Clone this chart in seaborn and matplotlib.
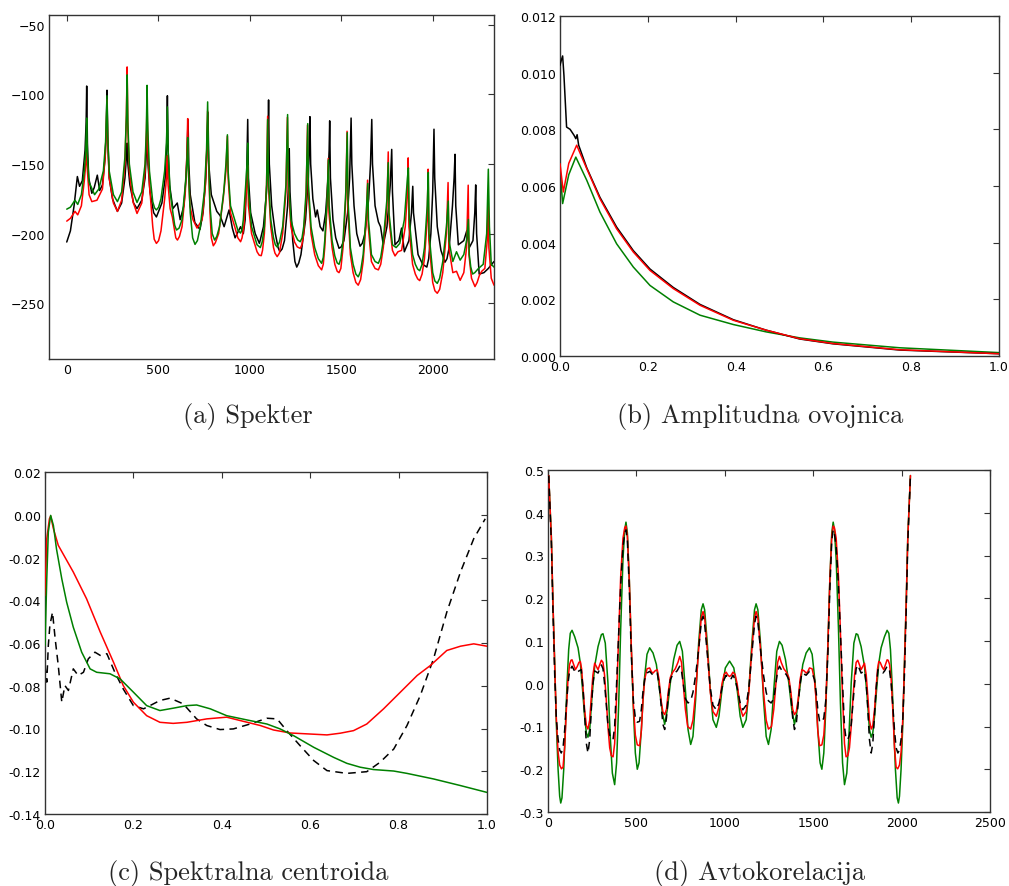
import numpy as np
import pandas as pd
import matplotlib
matplotlib.use("Agg")
import matplotlib.pyplot as plt
import seaborn as sns

# ---------------- data: (a) Spekter  (frequency, dB) ----------------
spec_black = [(0, -206), (20, -198), (40, -180), (58, -159), (70, -166), (85, -162), (100, -140), (106, -120), (109, -94), (113, -135), (120, -160), (137, -171), (150, -167), (167, -158), (180, -169), (195, -165), (210, -145), (216, -125), (220, -97), (224, -130), (232, -160), (250, -175), (277, -184), (300, -178), (318, -160), (326, -145), (330, -135), (334, -150), (345, -165), (365, -178), (384, -182), (410, -176), (428, -160), (436, -140), (440, -120), (444, -150), (455, -170), (475, -185), (490, -188), (520, -178), (538, -160), (546, -135), (550, -101), (554, -140), (562, -165), (580, -182), (604, -178), (620, -190), (640, -180), (652, -160), (658, -140), (663, -118), (667, -150), (675, -172), (700, -192), (728, -197), (745, -185), (760, -160), (766, -140), (772, -113), (776, -150), (790, -172), (820, -184), (838, -187), (860, -195), (887, -183), (905, -196), (920, -203), (950, -195), (965, -200), (975, -190), (983, -160), (989, -118), (993, -160), (1005, -185), (1030, -200), (1053, -207), (1075, -195), (1092, -170), (1099, -140), (1103, -104), (1107, -150), (1120, -180), (1140, -200), (1155, -210), (1165, -213), (1177, -211), (1190, -205), (1207, -180), (1213, -160), (1216, -139), (1220, -170), (1235, -205), (1247, -220), (1257, -224), (1268, -221), (1280, -215), (1305, -190), (1320, -160), (1326, -135), (1329, -116), (1333, -150), (1345, -175), (1360, -188), (1369, -183), (1385, -195), (1400, -198), (1415, -185), (1428, -160), (1434, -140), (1437, -119), (1441, -160), (1455, -190), (1470, -203), (1488, -210.5), (1500, -209.5), (1515, -205), (1535, -185), (1546, -160), (1551, -135), (1554, -117), (1558, -150), (1570, -180), (1585, -200), (1603, -209), (1615, -207), (1630, -200), (1650, -175), (1660, -150), (1664, -130), (1667, -118), (1671, -150), (1685, -180), (1703, -191.5), (1715, -195), (1730, -208), (1750, -195), (1768, -165), (1773, -150), (1776, -139.5), (1780, -170), (1794, -208), (1815, -205), (1830, -196), (1845, -213), (1870, -205), (1884, -185), (1891, -166), (1895, -185), (1920, -215), (1945, -222), (1968, -224), (1978, -218), (1990, -200), (2000, -170), (2004, -145), (2007, -125), (2011, -160), (2025, -195), (2045, -212), (2067, -220.5), (2078, -218), (2090, -210), (2108, -180), (2117, -160), (2122, -143), (2126, -180), (2140, -208), (2170, -205), (2186, -198), (2200, -210), (2220, -205), (2230, -185), (2235, -165), (2240, -200), (2254, -229), (2280, -228), (2304, -225), (2335, -220)]
spec_red = [(0, -191), (20, -189), (45, -184), (60, -186.5), (80, -180), (96, -162), (104, -150), (109, -135), (113, -155), (122, -172), (137, -177), (165, -176), (195, -168), (210, -145), (216, -125), (220, -104), (224, -135), (232, -160), (255, -178), (277, -184), (300, -176), (318, -150), (326, -115), (330, -80.3), (334, -125), (342, -155), (362, -177), (384, -185.5), (410, -178), (428, -155), (435, -130), (439, -105), (443, -140), (452, -165), (470, -195), (478, -204), (490, -207), (502, -205), (515, -198), (535, -175), (545, -160), (550, -144), (554, -165), (565, -182), (577, -188), (590, -198), (596, -203), (605, -204.6), (616, -202), (630, -195), (648, -170), (656, -145), (661, -117.4), (665, -155), (673, -180), (690, -190), (712, -196), (740, -190), (758, -165), (765, -140), (770, -112), (774, -145), (783, -185), (790, -203), (801, -208.7), (812, -206.5), (830, -200), (855, -175), (870, -155), (878, -130), (882, -160), (895, -185), (918, -195), (935, -203), (950, -205.8), (958, -203), (968, -195), (980, -172), (986, -160), (989, -151), (993, -180), (1010, -200), (1040, -213), (1052, -215.5), (1063, -215.8), (1070, -212), (1080, -200), (1092, -165), (1098, -115.7), (1102, -165), (1115, -195), (1130, -210), (1138, -214), (1150, -216.5), (1162, -214), (1180, -200), (1198, -170), (1206, -116.5), (1210, -165), (1225, -195), (1245, -206), (1260, -209.5), (1276, -210.6), (1285, -208), (1295, -200), (1308, -175), (1316, -122), (1320, -170), (1335, -200), (1355, -215), (1375, -223), (1393, -226), (1402, -222), (1410, -210), (1423, -180), (1429, -146), (1433, -185), (1450, -210), (1465, -222), (1478, -227), (1488, -228), (1498, -225), (1510, -210), (1525, -175), (1532, -126.5), (1536, -180), (1550, -215), (1565, -228), (1580, -235), (1593, -237), (1606, -233), (1620, -220), (1637, -190), (1644, -161.6), (1648, -195), (1665, -220), (1685, -225), (1703, -226), (1716, -222), (1730, -210), (1750, -180), (1757, -141.3), (1761, -190), (1780, -212), (1794, -216), (1810, -213), (1830, -212), (1850, -195), (1862, -170), (1866, -145.6), (1870, -195), (1890, -222), (1905, -229), (1918, -232.5), (1929, -233.7), (1942, -229), (1955, -218), (1970, -190), (1975, -153.7), (1979, -205), (2000, -235), (2012, -241), (2025, -242.8), (2038, -240), (2055, -228), (2075, -200), (2084, -163.3), (2088, -210), (2110, -228), (2130, -227), (2150, -233.5), (2170, -228), (2185, -210), (2194, -165.2), (2198, -215), (2212, -232), (2231, -238), (2243, -235), (2255, -230), (2268, -227), (2285, -225), (2298, -205), (2303, -178.3), (2307, -210), (2320, -232), (2335, -237)]
spec_green = [(0, -182.4), (20, -181), (45, -176), (60, -179), (80, -172), (96, -155), (104, -140), (109, -117), (113, -145), (122, -163), (152, -172), (175, -168), (200, -155), (212, -135), (220, -101), (224, -130), (232, -155), (255, -172), (277, -177), (300, -170), (318, -145), (326, -115), (330, -86), (334, -120), (342, -150), (362, -170), (384, -177.6), (410, -170), (428, -150), (435, -125), (439, -93.5), (443, -125), (452, -155), (470, -177), (480, -181.5), (490, -183), (502, -181), (515, -175), (535, -155), (545, -135), (550, -109), (554, -140), (565, -170), (580, -185), (590, -194), (600, -197.4), (614, -196), (630, -190), (648, -165), (656, -150), (661, -131), (665, -155), (675, -185), (688, -203), (701, -207.7), (714, -205), (730, -195), (752, -170), (764, -140), (770, -105.4), (774, -140), (783, -180), (795, -200), (808, -204.6), (820, -202), (835, -195), (858, -170), (870, -150), (878, -129), (882, -155), (895, -180), (918, -190), (935, -197.5), (950, -199.6), (958, -197), (965, -190), (978, -165), (985, -150), (989, -135), (993, -170), (1010, -195), (1040, -208), (1058, -210), (1068, -206), (1080, -195), (1092, -165), (1098, -118), (1102, -160), (1115, -190), (1130, -203), (1140, -208), (1150, -209.6), (1163, -206), (1180, -195), (1198, -165), (1207, -114.5), (1211, -160), (1225, -190), (1245, -200), (1262, -204.5), (1276, -205.8), (1286, -203), (1295, -195), (1308, -170), (1317, -121), (1321, -165), (1335, -195), (1355, -210), (1375, -218), (1393, -221.3), (1402, -217), (1410, -205), (1423, -175), (1430, -147), (1434, -180), (1450, -205), (1465, -216), (1478, -221), (1488, -222), (1498, -218), (1510, -205), (1525, -170), (1533, -127.5), (1537, -175), (1550, -210), (1565, -222), (1580, -229), (1593, -231), (1606, -227), (1620, -215), (1637, -185), (1645, -164), (1649, -190), (1665, -215), (1685, -220), (1703, -221.3), (1716, -217), (1730, -205), (1750, -175), (1757, -149), (1761, -185), (1780, -208), (1800, -210), (1820, -207), (1845, -190), (1862, -160), (1867, -152.8), (1872, -190), (1890, -215), (1905, -222), (1918, -225.5), (1929, -226.6), (1942, -222), (1955, -210), (1970, -180), (1976, -156), (1980, -200), (2000, -228), (2012, -234), (2025, -235.7), (2038, -232), (2055, -220), (2075, -195), (2085, -176.6), (2089, -205), (2110, -220), (2130, -213), (2150, -219), (2170, -215), (2185, -205), (2195, -189.8), (2200, -215), (2208, -224), (2218, -229), (2230, -228), (2250, -225), (2276, -222), (2295, -200), (2304, -153.7), (2310, -195), (2320, -222), (2335, -224)]
spec_black_x, spec_black_y = [p[0] for p in spec_black], [p[1] for p in spec_black]
spec_red_x, spec_red_y = [p[0] for p in spec_red], [p[1] for p in spec_red]
spec_green_x, spec_green_y = [p[0] for p in spec_green], [p[1] for p in spec_green]

# ---------------- data: (b) Amplitudna ovojnica ----------------
env_black_x = [0.0, 0.003, 0.006, 0.009, 0.015, 0.023, 0.032, 0.036, 0.039, 0.0425, 0.061, 0.091, 0.129, 0.167, 0.205, 0.258, 0.319, 0.395, 0.470, 0.546, 0.622, 0.774, 1.0]
env_black_y = [0.01026, 0.01044, 0.01059, 0.0099, 0.00808, 0.0080, 0.00779, 0.00767, 0.00781, 0.00744, 0.00664, 0.00560, 0.00455, 0.00372, 0.00307, 0.00242, 0.00182, 0.00128, 0.00091, 0.00060, 0.00043, 0.00021, 0.00008]
env_red_x = [0.0, 0.0076, 0.02, 0.038, 0.061, 0.091, 0.129, 0.167, 0.205, 0.258, 0.319, 0.395, 0.470, 0.546, 0.622, 0.774, 1.0]
env_red_y = [0.00679, 0.00579, 0.0068, 0.00744, 0.00661, 0.00555, 0.00449, 0.00367, 0.00302, 0.00238, 0.00179, 0.00126, 0.00091, 0.00061, 0.00044, 0.00022, 0.00008]
env_green_x = [0.0, 0.006, 0.02, 0.036, 0.061, 0.091, 0.129, 0.167, 0.205, 0.258, 0.319, 0.395, 0.470, 0.546, 0.622, 0.774, 1.0]
env_green_y = [0.00661, 0.00538, 0.0064, 0.00702, 0.0062, 0.00508, 0.00396, 0.00314, 0.00249, 0.00191, 0.00144, 0.00111, 0.00085, 0.00064, 0.00049, 0.00029, 0.00012]

# ---------------- data: (c) Spektralna centroida ----------------
cen_green_x = [0.0, 0.004, 0.0075, 0.0128, 0.019, 0.026, 0.038, 0.049, 0.064, 0.083, 0.102, 0.117, 0.147, 0.17, 0.2, 0.23, 0.26, 0.29, 0.321, 0.343, 0.374, 0.411, 0.457, 0.502, 0.532, 0.562, 0.608, 0.653, 0.683, 0.713, 0.743, 0.789, 0.819, 0.879, 0.94, 1.0]
cen_green_y = [-0.0612, -0.03, -0.0081, -0.0003, -0.005, -0.016, -0.03, -0.0409, -0.0526, -0.0643, -0.0721, -0.0737, -0.0744, -0.0768, -0.083, -0.0893, -0.0916, -0.0905, -0.0893, -0.089, -0.0908, -0.094, -0.096, -0.0979, -0.1002, -0.1033, -0.1088, -0.1135, -0.1163, -0.1181, -0.1192, -0.1199, -0.121, -0.1236, -0.1267, -0.1299]
cen_red_x = [0.0, 0.004, 0.01, 0.0128, 0.019, 0.03, 0.064, 0.094, 0.125, 0.155, 0.177, 0.2, 0.23, 0.26, 0.29, 0.321, 0.366, 0.411, 0.442, 0.487, 0.517, 0.555, 0.592, 0.638, 0.668, 0.698, 0.728, 0.766, 0.804, 0.842, 0.872, 0.909, 0.94, 0.97, 1.0]
cen_red_y = [-0.0378, -0.0112, -0.0019, -0.0006, -0.0065, -0.0143, -0.0268, -0.0393, -0.0549, -0.069, -0.0799, -0.0877, -0.094, -0.0971, -0.0976, -0.0971, -0.0955, -0.0947, -0.0963, -0.0986, -0.1007, -0.1021, -0.1025, -0.103, -0.1022, -0.101, -0.0979, -0.0908, -0.083, -0.0752, -0.0705, -0.0635, -0.0615, -0.0604, -0.0615]
cen_black_x = [0.0, 0.004, 0.0075, 0.011, 0.017, 0.023, 0.030, 0.038, 0.045, 0.053, 0.064, 0.075, 0.087, 0.098, 0.113, 0.125, 0.14, 0.158, 0.177, 0.2, 0.223, 0.245, 0.26, 0.283, 0.313, 0.343, 0.366, 0.396, 0.426, 0.464, 0.502, 0.525, 0.547, 0.577, 0.608, 0.638, 0.683, 0.728, 0.758, 0.789, 0.819, 0.849, 0.879, 0.909, 0.94, 0.97, 0.996]
cen_black_y = [-0.0705, -0.0783, -0.0612, -0.0518, -0.0456, -0.058, -0.0705, -0.0877, -0.0799, -0.0822, -0.0721, -0.0752, -0.0737, -0.0674, -0.0643, -0.0658, -0.065, -0.0737, -0.0815, -0.0893, -0.0908, -0.0885, -0.0869, -0.0858, -0.0885, -0.0955, -0.0986, -0.1005, -0.1002, -0.0979, -0.0952, -0.0955, -0.101, -0.108, -0.115, -0.1197, -0.121, -0.1202, -0.1158, -0.1096, -0.0986, -0.0846, -0.0674, -0.0456, -0.0268, -0.0112, -0.0019]

# ---------------- data: (d) Avtokorelacija ----------------
ac_green_x = [4, 19, 28, 38, 47, 57, 66, 72, 79, 89, 98, 107, 117, 126, 136, 151, 170, 183, 194, 207, 217, 226, 236, 249, 264, 283, 302, 311, 324, 339, 352, 364, 377, 388, 400, 411, 424, 434, 441, 449, 460, 471, 483, 494, 505, 515, 528, 543, 560, 575, 594, 613, 631, 647, 660, 675, 692, 711, 730, 745, 760, 777, 792, 807, 820, 835, 852, 867, 877, 886, 901, 918, 933, 952, 967, 984, 1003, 1027,
              1051, 1070, 1087, 1102, 1121, 1136, 1153, 1168, 1177, 1187, 1202, 1219, 1234, 1247, 1262, 1277, 1294, 1309, 1324, 1343, 1362, 1379, 1394, 1407, 1423, 1441, 1460, 1479, 1494, 1511, 1526, 1539, 1549, 1560, 1571, 1583, 1594, 1605, 1613, 1620, 1630, 1643, 1654, 1666, 1677, 1690, 1702, 1715, 1730, 1743, 1752, 1771, 1790, 1805, 1818, 1828, 1837, 1847, 1860, 1871, 1884, 1903, 1918, 1928, 1937, 1947, 1956, 1965, 1975, 1982, 1988, 1997, 2007, 2016, 2026, 2035, 2050]
ac_green_y = [0.487, 0.344, 0.189, 0.048, -0.092, -0.2, -0.263, -0.279, -0.267, -0.2, -0.107, -0.006, 0.08, 0.118, 0.125, 0.11, 0.084, 0.048, -0.006, -0.076, -0.115, -0.125, -0.107, -0.029, 0.041, 0.087, 0.115, 0.117, 0.095, 0.002, -0.123, -0.209, -0.236, -0.185, -0.045, 0.127, 0.291, 0.361, 0.378, 0.353, 0.243, 0.087, -0.061, -0.162, -0.2, -0.185, -0.107, 0.002, 0.069, 0.084, 0.072, 0.045, -0.014, -0.068, -0.095, -0.06, 0.002, 0.057, 0.09, 0.099, 0.076, -0.014, -0.107, -0.142, -0.123, -0.037, 0.095, 0.173, 0.187, 0.173, 0.095, -0.014, -0.084, -0.102, -0.076, -0.014, 0.037, 0.053,
              0.037, -0.014, -0.076, -0.102, -0.084, -0.014, 0.095, 0.173, 0.187, 0.173, 0.095, -0.037, -0.123, -0.142, -0.107, -0.014, 0.076, 0.099, 0.09, 0.057, 0.002, -0.06, -0.095, -0.068, -0.014, 0.045, 0.072, 0.084, 0.069, 0.002, -0.107, -0.185, -0.2, -0.162, -0.061, 0.087, 0.243, 0.353, 0.378, 0.361, 0.291, 0.127, -0.045, -0.185, -0.236, -0.209, -0.123, 0.002, 0.095, 0.117, 0.115, 0.087, 0.041, -0.029, -0.107, -0.125, -0.115, -0.076, -0.006, 0.048, 0.084, 0.11, 0.125, 0.118, 0.08, -0.006, -0.107, -0.2, -0.267, -0.279, -0.263, -0.2, -0.092, 0.048, 0.189, 0.344, 0.487]
ac_red_x = [4, 19, 28, 38, 47, 57, 66, 76, 85, 94, 104, 113, 122, 130, 136, 145, 155, 165, 175, 183, 190, 198, 207, 217, 226, 236, 245, 254, 264, 274, 283, 293, 302, 311, 320, 330, 339, 349, 358, 368, 377, 388, 400, 411, 424, 434, 441, 449, 460, 471, 483, 494, 505, 518, 528, 537, 547, 560, 575, 585, 594, 605, 618, 628, 640, 650, 660, 670, 680, 692, 707, 720, 735, 745, 755, 765, 777, 790, 807, 820, 835, 852, 867, 877, 886, 901, 918, 933, 952, 967, 984, 996, 1008, 1018, 1027,
            1036, 1046, 1058, 1070, 1087, 1102, 1121, 1136, 1153, 1168, 1177, 1187, 1202, 1219, 1234, 1247, 1264, 1277, 1289, 1299, 1309, 1319, 1334, 1347, 1362, 1374, 1384, 1394, 1404, 1414, 1426, 1436, 1449, 1460, 1469, 1479, 1494, 1507, 1517, 1526, 1536, 1549, 1560, 1571, 1583, 1594, 1605, 1613, 1620, 1630, 1643, 1654, 1666, 1677, 1686, 1696, 1705, 1715, 1724, 1734, 1743, 1752, 1761, 1771, 1780, 1790, 1800, 1809, 1818, 1828, 1837, 1847, 1856, 1864, 1871, 1879, 1889, 1899, 1909, 1918, 1924, 1932, 1941, 1950, 1960, 1969, 1978, 1988, 1997, 2007, 2016, 2026, 2035, 2050]
ac_red_y = [0.487, 0.34, 0.19, 0.04, -0.08, -0.16, -0.19, -0.199, -0.195, -0.15, -0.06, 0.01, 0.045, 0.055, 0.056, 0.045, 0.033, 0.04, 0.05, 0.052, 0.035, -0.01, -0.06, -0.098, -0.106, -0.085, -0.03, 0.02, 0.048, 0.04, 0.033, 0.045, 0.055, 0.05, 0.02, -0.04, -0.1, -0.15, -0.168, -0.171, -0.14, -0.03, 0.12, 0.25, 0.34, 0.365, 0.369, 0.345, 0.24, 0.09, -0.05, -0.12, -0.143, -0.145, -0.11, -0.04, 0.01, 0.035, 0.037, 0.028, 0.025, 0.03, 0.033, 0.01, -0.04, -0.066, -0.072, -0.06, -0.02, 0.015, 0.028, 0.035, 0.05, 0.064, 0.05, 0.0, -0.06, -0.1, -0.106, -0.085, -0.02, 0.08, 0.155, 0.169, 0.155, 0.08, -0.02, -0.065, -0.076, -0.055, 0.0, 0.022, 0.027, 0.02, 0.017,
            0.02, 0.027, 0.022, 0.0, -0.055, -0.076, -0.065, -0.02, 0.08, 0.155, 0.169, 0.155, 0.08, -0.02, -0.085, -0.106, -0.1, -0.06, 0.0, 0.05, 0.064, 0.05, 0.035, 0.028, 0.015, -0.02, -0.06, -0.072, -0.066, -0.04, 0.01, 0.033, 0.03, 0.025, 0.028, 0.037, 0.035, 0.01, -0.04, -0.11, -0.145, -0.143, -0.12, -0.05, 0.09, 0.24, 0.345, 0.369, 0.365, 0.34, 0.25, 0.12, -0.03, -0.14, -0.171, -0.168, -0.15, -0.1, -0.04, 0.02, 0.05, 0.055, 0.045, 0.033, 0.04, 0.048, 0.02, -0.03, -0.085, -0.106, -0.098, -0.06, -0.01, 0.035, 0.052, 0.05, 0.04, 0.033, 0.045, 0.056, 0.055, 0.045, 0.01, -0.06, -0.15, -0.195, -0.199, -0.19, -0.16, -0.08, 0.04, 0.19, 0.34, 0.487]
ac_black_x = [4, 19, 28, 38, 47, 57, 66, 75, 85, 94, 104, 113, 122, 136, 150, 160, 175, 188, 198, 207, 217, 226, 236, 245, 254, 264, 283, 302, 311, 320, 330, 339, 349, 358, 368, 377, 388, 400, 411, 424, 434, 441, 449, 460, 471, 483, 494, 505, 518, 528, 537, 547, 560, 575, 594, 618, 628, 640, 650, 660, 670, 680, 692, 707, 730, 745, 755, 765, 777, 792, 807, 820, 835, 852, 867, 877, 886, 901, 918, 933, 952, 967, 984, 996, 1008, 1018, 1027,
              1036, 1046, 1058, 1070, 1087, 1102, 1121, 1136, 1153, 1168, 1177, 1187, 1202, 1219, 1234, 1247, 1262, 1277, 1289, 1299, 1309, 1324, 1347, 1362, 1374, 1384, 1394, 1404, 1414, 1426, 1436, 1460, 1479, 1494, 1507, 1517, 1526, 1536, 1549, 1560, 1571, 1583, 1594, 1605, 1613, 1620, 1630, 1643, 1654, 1666, 1677, 1686, 1696, 1705, 1715, 1724, 1734, 1743, 1752, 1771, 1790, 1800, 1809, 1818, 1828, 1837, 1847, 1856, 1866, 1879, 1894, 1904, 1918, 1932, 1941, 1950, 1960, 1969, 1979, 1988, 1997, 2007, 2016, 2026, 2035, 2050]
ac_black_y = [0.487, 0.33, 0.17, 0.02, -0.08, -0.13, -0.155, -0.162, -0.15, -0.11, -0.05, 0.0, 0.03, 0.041, 0.03, 0.025, 0.03, 0.033, -0.01, -0.07, -0.14, -0.162, -0.13, -0.06, 0.0, 0.03, 0.025, 0.044, 0.035, 0.0, -0.05, -0.095, -0.12, -0.13, -0.13, -0.1, 0.0, 0.12, 0.23, 0.32, 0.352, 0.36, 0.335, 0.22, 0.07, -0.04, -0.08, -0.09, -0.088, -0.06, -0.02, 0.01, 0.025, 0.029, 0.02, 0.025, 0.0, -0.05, -0.095, -0.107, -0.08, -0.03, 0.01, 0.022, 0.03, 0.041, 0.03, 0.0, -0.035, -0.045, -0.04, -0.02, 0.02, 0.08, 0.145, 0.158, 0.14, 0.07, -0.01, -0.05, -0.061, -0.045, -0.01, 0.01, 0.02, 0.012, 0.01,
              0.012, 0.02, 0.01, -0.01, -0.045, -0.061, -0.05, -0.01, 0.07, 0.14, 0.158, 0.145, 0.08, 0.02, -0.02, -0.04, -0.045, -0.035, 0.0, 0.03, 0.041, 0.03, 0.022, 0.01, -0.03, -0.08, -0.107, -0.095, -0.05, 0.0, 0.025, 0.02, 0.029, 0.025, 0.01, -0.02, -0.06, -0.088, -0.09, -0.08, -0.04, 0.07, 0.22, 0.335, 0.36, 0.352, 0.32, 0.23, 0.12, 0.0, -0.1, -0.13, -0.13, -0.12, -0.095, -0.05, 0.0, 0.035, 0.044, 0.025, 0.03, 0.0, -0.06, -0.13, -0.162, -0.14, -0.07, -0.01, 0.033, 0.03, 0.025, 0.03, 0.041, 0.03, 0.0, -0.05, -0.11, -0.15, -0.162, -0.155, -0.13, -0.08, 0.02, 0.17, 0.33, 0.487]

captions = ["(a) Spekter", "(b) Amplitudna ovojnica", "(c) Spektralna centroida", "(d) Avtokorelacija"]

# ---------------- style ----------------
sns.set_style("white")
plt.rcParams.update({
    "font.family": ["DejaVu Sans"],
    "xtick.direction": "in", "ytick.direction": "in",
    "xtick.top": True, "ytick.right": True,
    "xtick.major.size": 4, "ytick.major.size": 4,
    "xtick.major.width": 0.8, "ytick.major.width": 0.8,
    "xtick.color": "#333333", "ytick.color": "#333333",
    "xtick.labelcolor": "black", "ytick.labelcolor": "black",
    "axes.edgecolor": "#333333", "axes.linewidth": 1.0,
    "xtick.labelsize": 9, "ytick.labelsize": 9,
    "xtick.major.pad": 3, "ytick.major.pad": 3,
})

W, H = 1009, 887
fig = plt.figure(figsize=(W / 100, H / 100), dpi=100)

def box(l, r, t, b):
    return [l / W, 1 - b / H, (r - l) / W, (b - t) / H]

axA = fig.add_axes(box(49, 494, 16, 360))
axB = fig.add_axes(box(560, 999, 17, 357))
axC = fig.add_axes(box(45, 487, 473, 815))
axD = fig.add_axes(box(548, 990, 471, 813))

RED, GREEN, BLACK = "#ff0000", "#008000", "#000000"
LW = 1.1

def draw(ax, x, y, color, dashed=False, z=2):
    df = pd.DataFrame({"x": x, "y": y})
    sns.lineplot(data=df, x="x", y="y", ax=ax, color=color, lw=LW, sort=False,
                 estimator=None, legend=False, zorder=z)
    line = ax.lines[-1]
    line.set_solid_joinstyle("round")
    if dashed:
        line.set_dashes((5, 3.5))

# (a)
draw(axA, spec_black_x, spec_black_y, BLACK, z=2)
draw(axA, spec_red_x, spec_red_y, RED, z=3)
draw(axA, spec_green_x, spec_green_y, GREEN, z=4)
axA.set_xlim(-97, 2335)
axA.set_ylim(-290, -43)
axA.set_xticks([0, 500, 1000, 1500, 2000])
axA.set_yticks([-50, -100, -150, -200, -250])

# (b)
draw(axB, env_green_x, env_green_y, GREEN, z=2)
draw(axB, env_black_x, env_black_y, BLACK, z=3)
draw(axB, env_red_x, env_red_y, RED, z=4)
axB.set_xlim(0, 1)
axB.set_ylim(0, 0.012)
axB.set_xticks([0, 0.2, 0.4, 0.6, 0.8, 1.0])
axB.set_yticks([0, 0.002, 0.004, 0.006, 0.008, 0.010, 0.012])
axB.yaxis.set_major_formatter(matplotlib.ticker.FormatStrFormatter("%.3f"))
axB.xaxis.set_major_formatter(matplotlib.ticker.FormatStrFormatter("%.1f"))

# (c)
draw(axC, cen_black_x, cen_black_y, BLACK, dashed=True, z=2)
draw(axC, cen_red_x, cen_red_y, RED, z=3)
draw(axC, cen_green_x, cen_green_y, GREEN, z=4)
axC.set_xlim(0, 1)
axC.set_ylim(-0.14, 0.02)
axC.set_xticks([0, 0.2, 0.4, 0.6, 0.8, 1.0])
axC.set_yticks([0.02, 0.0, -0.02, -0.04, -0.06, -0.08, -0.10, -0.12, -0.14])
axC.yaxis.set_major_formatter(matplotlib.ticker.FormatStrFormatter("%.2f"))
axC.xaxis.set_major_formatter(matplotlib.ticker.FormatStrFormatter("%.1f"))

# (d)
draw(axD, ac_green_x, ac_green_y, GREEN, z=2)
draw(axD, ac_red_x, ac_red_y, RED, z=3)
draw(axD, ac_black_x, ac_black_y, BLACK, dashed=True, z=4)
axD.set_xlim(0, 2500)
axD.set_ylim(-0.3, 0.5)
axD.set_xticks([0, 500, 1000, 1500, 2000, 2500])
axD.set_yticks([-0.3, -0.2, -0.1, 0.0, 0.1, 0.2, 0.3, 0.4, 0.5])
axD.yaxis.set_major_formatter(matplotlib.ticker.FormatStrFormatter("%.1f"))

for ax in (axA, axB, axC, axD):
    ax.set_xlabel("")
    ax.set_ylabel("")
    for s in ax.spines.values():
        s.set_visible(True)
        s.set_color("#333333")

cap_pos = [(248, 417), (760, 417), (248, 874), (760, 874)]
for (cx, cy), txt in zip(cap_pos, captions):
    fig.text(cx / W, 1 - cy / H, txt, ha="center", va="center",
             fontsize=19, family=["cmr10", "DejaVu Serif"])

fig.savefig("out.png", dpi=100)
